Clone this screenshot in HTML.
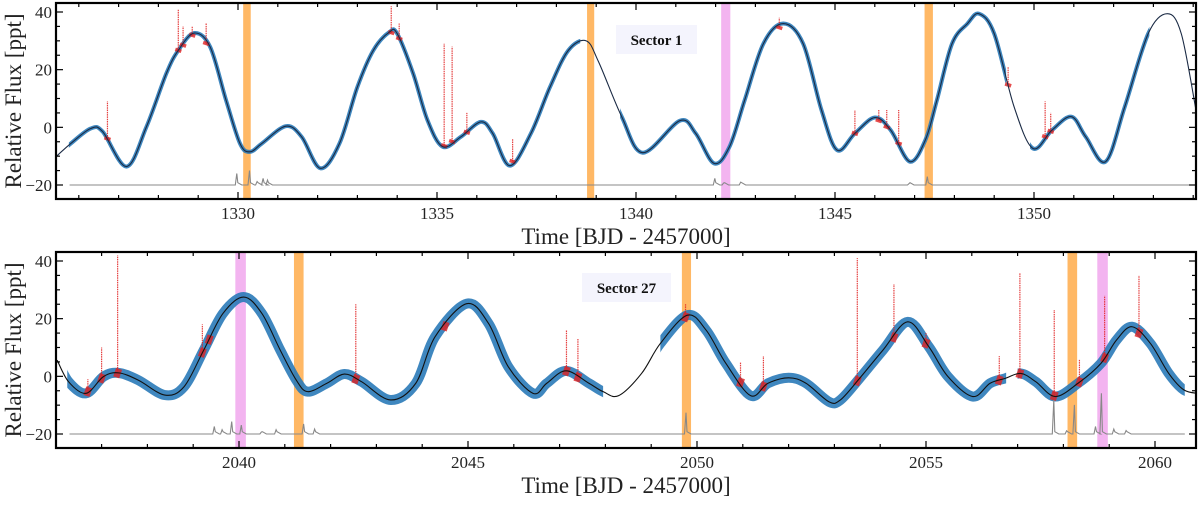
<!DOCTYPE html>
<html><head><meta charset="utf-8"><style>
html,body{margin:0;padding:0;background:#fff;}
svg text{font-family:"Liberation Serif","DejaVu Serif",serif !important;}
</style></head><body>
<svg id="chart" width="1200" height="501" viewBox="0 0 1200 501" font-family="Liberation Serif, serif" xmlns="http://www.w3.org/2000/svg"></svg>
<script>
// ---------- Sector 1 data ----------
const s1ModelT = [1325.34,1325.8,1326.3,1326.6,1327.2,1327.7,1328.2,1328.5,1328.9,1329.3,1329.7,1330.05,1330.3,1330.6,1331.2,1331.6,1332.07,1332.55,1333.0,1333.4,1333.8,1334.0,1334.4,1334.76,1335.14,1335.6,1336.1,1336.4,1336.83,1337.36,1337.84,1338.3,1338.75,1339.06,1339.64,1340.17,1341.1,1341.5,1341.96,1342.35,1342.73,1343.2,1343.7,1344.2,1344.66,1345.05,1345.5,1346.0,1346.4,1346.88,1347.27,1347.56,1347.94,1348.33,1348.62,1349.0,1349.5,1349.97,1350.45,1350.94,1351.3,1351.8,1352.28,1352.87,1353.35,1353.7,1354.07];
const s1ModelF = [-11.3,-5.6,-0.4,-1.5,-13.6,0.2,18.7,26.7,32.7,27.9,9.4,-5.6,-8.5,-5.6,0.4,-3.3,-14.2,-5.6,14,26.7,33,32.5,18.7,2.5,-6.7,-3.3,1.9,-2.1,-13.3,-2.1,14,26.7,30,22.7,3.7,-8.8,2.3,-2.1,-12.5,-6.7,9.4,29,36,29,6,-7.9,-2.1,3.4,-1,-11.9,-4.4,9.4,29,36,39.4,32.5,7.1,-7.3,-1,3.7,-3.3,-11.9,7.1,32.5,39.4,32.5,6];
const s1DataRanges = [[1325.75,1338.6],[1339.6,1349.3],[1349.9,1352.9]];
const s1FlareT = [1326.72,1328.5,1328.62,1328.85,1329.2,1333.85,1334.05,1335.18,1335.38,1335.75,1336.9,1343.6,1345.5,1346.1,1346.3,1346.6,1350.28,1350.42,1349.35];
const s1FlareP = [9,41,35,35,36,42,36,29,28,5,-4,38,6,6,6,6,9,5,21];
const s1BandT0 = [1330.13,1338.77,1342.14,1347.25];
const s1BandT1 = [1330.32,1338.95,1342.37,1347.46];
const s1BandKind = ['o','o','p','o'];
const s1SpikeT = [1329.97,1330.29,1330.48,1330.63,1330.74,1341.98,1342.2,1342.63,1346.86,1347.32];
const s1SpikeF = [-16,-15,-18.8,-17.7,-18.3,-17.7,-19.3,-19,-19.5,-17.1];
const s1XTicks = [1330,1335,1340,1345,1350];

// ---------- Sector 27 data ----------
const s27ModelT = [2036.03,2036.28,2036.66,2037.04,2037.37,2037.8,2038.38,2038.8,2039.23,2039.65,2040.1,2040.5,2040.9,2041.25,2041.5,2041.92,2042.3,2042.68,2043.31,2043.86,2044.28,2044.97,2045.45,2045.88,2046.42,2046.72,2047.14,2047.64,2047.95,2048.29,2048.79,2049.2,2049.79,2050.2,2050.63,2051.17,2051.55,2052.0,2052.38,2052.88,2053.13,2053.55,2054.06,2054.6,2055.06,2055.48,2056.02,2056.4,2056.73,2057.07,2057.4,2057.82,2058.32,2058.82,2059.16,2059.5,2059.9,2060.3,2060.63,2060.98];
const s27ModelF = [5.6,-1.9,-5.9,-0.1,1.2,-1.3,-6.5,-3.6,9.1,21.8,27.5,21.8,9.1,-1.3,-5.3,-2.4,0.8,-1.9,-8.2,-2.4,13.7,25.2,18.3,3.3,-5.9,-2.4,1.9,-2.4,-5.3,-6.7,1,11.4,21.2,16,4.5,-6.7,-2.4,-0.5,-2.4,-8.8,-8.2,-0.7,9.1,18.9,10.3,-0.1,-7,-2.4,-0.7,1,-1.9,-7,-2.4,4.5,12.6,17.2,11.4,1,-4.7,-6];
const s27DataRanges = [[2036.25,2047.95],[2049.2,2056.75],[2057.0,2060.65]];
const s27FlareT = [2036.7,2037.0,2037.35,2039.2,2039.35,2042.55,2044.5,2047.15,2047.4,2049.75,2050.95,2051.45,2053.5,2054.3,2056.6,2057.05,2057.8,2058.35,2058.9,2059.65,2055.0];
const s27FlareP = [-1,10,42,18,13,25,17,16,13,25,5,7,41,32,7,36,23,6,28,35,15];
const s27BandT0 = [2039.92,2041.2,2049.67,2058.09,2058.74];
const s27BandT1 = [2040.15,2041.41,2049.87,2058.3,2058.97];
const s27BandKind = ['p','o','o','o','p'];
const s27SpikeT = [2039.46,2039.63,2039.84,2040.05,2040.49,2040.81,2041.41,2041.65,2049.76,2057.79,2058.07,2058.24,2058.7,2058.83,2059.1,2059.37];
const s27SpikeF = [-17.4,-18.5,-15.7,-16.9,-19.3,-18.5,-16.5,-18.3,-12.6,-8.2,-18.9,-9.9,-17.4,-5.9,-18.3,-18.8];
const s27XTicks = [2040,2045,2050,2055,2060];

const yTicks = [-20,0,20,40];

const NS = 'http://www.w3.org/2000/svg';
const svg = document.getElementById('chart');
function mk(tag, attrs, parent){const e=document.createElementNS(NS,tag);for(const k in attrs)e.setAttribute(k,attrs[k]);if(tag==='text')e.setAttribute('font-family','Liberation Serif, serif');(parent||svg).appendChild(e);return e;}

function smoothPath(pts){
  let d='M'+pts[0][0].toFixed(2)+','+pts[0][1].toFixed(2);
  for(let i=0;i<pts.length-1;i++){
    const p0=pts[Math.max(0,i-1)],p1=pts[i],p2=pts[i+1],p3=pts[Math.min(pts.length-1,i+2)];
    const c1=[p1[0]+(p2[0]-p0[0])/6,p1[1]+(p2[1]-p0[1])/6];
    const c2=[p2[0]-(p3[0]-p1[0])/6,p2[1]-(p3[1]-p1[1])/6];
    d+='C'+c1[0].toFixed(2)+','+c1[1].toFixed(2)+' '+c2[0].toFixed(2)+','+c2[1].toFixed(2)+' '+p2[0].toFixed(2)+','+p2[1].toFixed(2);
  }
  return d;
}
function interpModel(T,F,t){
  for(let i=0;i<T.length-1;i++){if(t>=T[i]&&t<=T[i+1]){const f=(t-T[i])/(T[i+1]-T[i]);return F[i]+f*(F[i+1]-F[i]);}}
  return F[F.length-1];
}

function panel(cfg){
  const L=56,R=1196,top=cfg.top,bot=cfg.bot;
  const x=t=>cfg.x0px+(t-cfg.t0)*cfg.ppd;
  const y=f=>cfg.y40+(40-f)*(cfg.yM20-cfg.y40)/60;
  const g=mk('g',{});
  
  
  const cid='clip-'+cfg.name;
  const cp=mk('clipPath',{id:cid},g);mk('rect',{x:L,y:top,width:R-L,height:bot-top},cp);
  const inner=mk('g',{'clip-path':'url(#'+cid+')'},g);
  cfg.b0.forEach((t0,i)=>{
    const r=mk('rect',{x:x(t0),y:top,width:x(cfg.b1[i])-x(t0),height:bot-top,fill:cfg.bk[i]==='o'?'#ffb865':'#f3b4f0'},inner);
    
    
  });
  const pts=cfg.mt.map((t,i)=>[x(t),y(cfg.mf[i])]);
  const d=smoothPath(pts);
  const did='data-'+cfg.name;
  const dc=mk('clipPath',{id:did},g);
  cfg.dr.forEach(r=>mk('rect',{x:x(r[0]),y:top,width:x(r[1])-x(r[0]),height:bot-top},dc));
  const dg=mk('g',{'clip-path':'url(#'+did+')'},inner);
  const band=mk('path',{d:d,fill:'none',stroke:'#2a7ab8','stroke-width':cfg.bw,'stroke-linecap':'round','stroke-opacity':0.9},dg);
  
  
  cfg.ft.forEach((t,i)=>{
    const base=interpModel(cfg.mt,cfg.mf,t);
    const fl=mk('line',{x1:x(t),x2:x(t),y1:y(base),y2:y(cfg.fp[i]),stroke:'#e02020','stroke-width':1.2,'stroke-dasharray':'1.5 0.8','stroke-opacity':0.85},inner);
    
    
    const blob=mk('line',{x1:x(t)-3,x2:x(t)+3,y1:y(base)-1,y2:y(base)+1,stroke:'#e02020','stroke-width':cfg.bw*0.9,'stroke-opacity':0.8},inner);
    
    
  });
  const model=mk('path',{d:d,fill:'none',stroke:cfg.lc,'stroke-width':1.1},inner);
  
  
  let gd='M'+x(cfg.gs).toFixed(1)+','+y(-20).toFixed(1);
  const order=cfg.st.map((t,i)=>i).sort((a,b)=>cfg.st[a]-cfg.st[b]);
  order.forEach(i=>{const t=cfg.st[i];gd+='L'+(x(t)-1.5).toFixed(1)+','+y(-20).toFixed(1)+'L'+x(t).toFixed(1)+','+y(cfg.sf[i]).toFixed(1)+'L'+(x(t)+1).toFixed(1)+','+y(-19.2).toFixed(1)+'L'+(x(t)+5).toFixed(1)+','+y(-20).toFixed(1);});
  gd+='L'+x(cfg.ge).toFixed(1)+','+y(-20).toFixed(1);
  const gl=mk('path',{d:gd,fill:'none',stroke:'#888','stroke-width':1.1},inner);
  
  
  const fr=mk('rect',{x:L,y:top,width:R-L,height:bot-top,fill:'none',stroke:'#000','stroke-width':2.2},g);
  
  
  for(let t=Math.ceil(cfg.t0-(cfg.x0px-L)/cfg.ppd);x(t)<R;t++){
    if(x(t)<=L)continue;
    const major=cfg.xt.includes(t);const len=major?7:4;
    mk('line',{x1:x(t),x2:x(t),y1:bot,y2:bot-len,stroke:'#000','stroke-width':1.2},g);
    mk('line',{x1:x(t),x2:x(t),y1:top,y2:top+len,stroke:'#000','stroke-width':1.2},g);
  }
  cfg.xt.forEach(t=>{const tx=mk('text',{x:x(t),y:bot+20,'text-anchor':'middle','font-size':17,fill:'#222'},g);tx.textContent=t;
    });
  for(let f=-20;f<=40;f+=5){
    const major=yTicks.includes(f);const len=major?7:4;
    mk('line',{x1:L,x2:L+len,y1:y(f),y2:y(f),stroke:'#000','stroke-width':1.2},g);
    mk('line',{x1:R,x2:R-len,y1:y(f),y2:y(f),stroke:'#000','stroke-width':1.2},g);
  }
  yTicks.forEach(f=>{const tx=mk('text',{x:L-4,y:y(f)+6,'text-anchor':'end','font-size':17,fill:'#222'},g);tx.textContent=(f<0?'\u2212':'')+Math.abs(f);
    });
  const xt=mk('text',{x:626,y:bot+45,'text-anchor':'middle','font-size':23,fill:'#222'},g);xt.textContent='Time [BJD - 2457000]';
  
  const cy=(top+bot)/2;
  const yt=mk('text',{x:0,y:0,transform:'translate(21,'+cy+') rotate(-90)','text-anchor':'middle','font-size':23,fill:'#222'},g);yt.textContent='Relative Flux [ppt]';
  
  const lb=mk('rect',{x:cfg.lx,y:cfg.ly,width:cfg.lw,height:29,fill:'#f4f4fd'},g);
  
  const lt=mk('text',{x:cfg.lx+cfg.lw/2,y:cfg.ly+20,'text-anchor':'middle','font-size':15,'font-weight':'bold',fill:'#111'},g);lt.textContent=cfg.label;
  
}

panel({name:'sector-1-panel',top:3,bot:199,t0:1330,x0px:238,ppd:39.8,y40:12,yM20:185,
  mt:s1ModelT,mf:s1ModelF,dr:s1DataRanges,ft:s1FlareT,fp:s1FlareP,b0:s1BandT0,b1:s1BandT1,bk:s1BandKind,
  st:s1SpikeT,sf:s1SpikeF,gs:1325.77,ge:1354.07,xt:s1XTicks,bw:4,lc:'#1a2a44',label:'Sector 1',lx:616,ly:25,lw:81});
panel({name:'sector-27-panel',top:252,bot:448,t0:2040,x0px:239,ppd:45.8,y40:261,yM20:434,
  mt:s27ModelT,mf:s27ModelF,dr:s27DataRanges,ft:s27FlareT,fp:s27FlareP,b0:s27BandT0,b1:s27BandT1,bk:s27BandKind,
  st:s27SpikeT,sf:s27SpikeF,gs:2036.3,ge:2060.65,xt:s27XTicks,bw:10,lc:'#111',label:'Sector 27',lx:582,ly:273,lw:89});
</script>
</body></html>
